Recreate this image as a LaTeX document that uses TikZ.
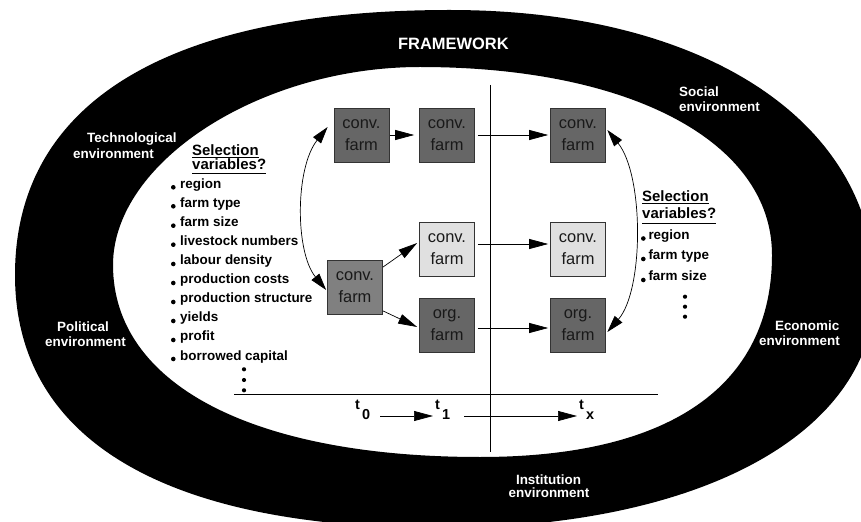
\documentclass[tikz,border=0pt]{standalone}
\usepackage{fontspec}
\setmainfont{Liberation Sans}
\usetikzlibrary{arrows.meta,calc}
\definecolor{darkbox}{HTML}{666666}
\definecolor{midbox}{HTML}{808080}
\definecolor{lightbox}{HTML}{E0E0E0}
\begin{document}
\begin{tikzpicture}[x=1bp,y=-1bp,
  farm/.style={draw=black!80, line width=0.7bp, minimum width=55bp, minimum height=54bp,
    inner sep=0pt, align=center, text=black!90, font=\fontsize{16.5}{22}\selectfont},
  arr/.style={line width=0.7bp, -{Triangle[length=19bp,width=10bp]}},
  dblarr/.style={line width=0.7bp, {Triangle[length=17bp,width=10bp]}-{Triangle[length=17bp,width=10bp]}},
  envlbl/.style={text=white, inner sep=0pt, font=\fontsize{13.5}{15.5}\selectfont\bfseries},
  headlbl/.style={inner sep=0pt, font=\fontsize{15}{17}\selectfont\bfseries},
  item/.style={inner sep=0pt, anchor=base west, font=\fontsize{13.5}{15}\selectfont\bfseries},
  tlab/.style={inner sep=0pt, anchor=base west, font=\fontsize{14.5}{16}\selectfont\bfseries},
  thinl/.style={line width=0.7bp}]
\useasboundingbox (0,0) rectangle (861,522);
% ring
\fill[white] (0,0) rectangle (861,522);
\fill[black, even odd rule]
  (15,275) .. controls (15,103) and (167,10) .. (450,10)
  .. controls (705,10) and (875,122) .. (875,290)
  .. controls (875,433) and (701,528) .. (440,528)
  .. controls (164,528) and (15,439) .. (15,275) -- cycle
  (113,265) .. controls (113,162) and (260,67) .. (420,67)
  .. controls (631,67) and (772,142) .. (772,255)
  .. controls (772,386) and (670,457) .. (480,457)
  .. controls (252,457) and (113,384) .. (113,265) -- cycle;
% environment labels
\node[envlbl, anchor=base west] (fw) at (398,50) {\fontsize{16.5}{18}\selectfont FRAMEWORK};
\node[envlbl, anchor=base west] (tech1) at (87,142.7) {Technological};
\node[envlbl, anchor=base west] (tech2) at (73,158.3) {environment};
\node[envlbl, anchor=base west] (soc1) at (679,96.7) {Social};
\node[envlbl, anchor=base west] (soc2) at (679,111.7) {environment};
\node[envlbl, anchor=base] (pol1) at (83,331.7) {Political};
\node[envlbl, anchor=base] (pol2) at (85.5,346.7) {environment};
\node[envlbl, anchor=base east] (eco1) at (839.5,330.7) {Economic};
\node[envlbl, anchor=base east] (eco2) at (840,345.7) {environment};
\node[envlbl, anchor=base] (ins1) at (548.5,484.3) {Institution};
\node[envlbl, anchor=base] (ins2) at (549,497.7) {environment};
% axes
\coordinate (vtop) at (490,85);
\coordinate (vbot) at (490,452);
\coordinate (hl) at (234,394);
\coordinate (hr) at (658,394);
\draw[thinl] (vtop) -- (vbot);
\draw[thinl] (hl) -- (hr);
% farm boxes
\node[farm, fill=darkbox] (A) at (361.5,135) {conv.\\farm};
\node[farm, fill=darkbox] (B) at (447,135) {conv.\\farm};
\node[farm, fill=darkbox] (C) at (578,135) {conv.\\farm};
\node[farm, fill=lightbox] (D) at (447,249) {conv.\\farm};
\node[farm, fill=lightbox] (E) at (578,249) {conv.\\farm};
\node[farm, fill=midbox] (F) at (355,287.5) {conv.\\farm};
\node[farm, fill=darkbox] (G) at (447,325) {org.\\farm};
\node[farm, fill=darkbox] (H) at (578,325) {org.\\farm};
% arrows between boxes
\draw[arr] ([xshift=1bp]A.east) -- ([xshift=-5bp]B.west);
\draw[arr] ([xshift=3bp]B.east) -- ([xshift=-2bp]C.west);
\draw[arr] ([xshift=3bp,yshift=5bp]D.east) -- ([xshift=-2bp,yshift=5bp]E.west);
\draw[arr] ([xshift=3bp,yshift=-3bp]G.east) -- ([xshift=-2bp,yshift=-3bp]H.west);
\draw[arr] ([yshift=-7bp]F.north east) -- ([xshift=-2bp,yshift=6bp]D.west);
\draw[arr] ([yshift=4bp]F.south east) -- ([xshift=-2bp,yshift=-2bp]G.west);
\draw[dblarr] ([xshift=-6bp,yshift=8bp]A.west) .. controls (295,168) and (295,252) .. ([xshift=-1bp,yshift=-2.5bp]F.west);
\draw[dblarr] ([xshift=1.5bp,yshift=5bp]C.east) .. controls (644,175) and (644,290) .. ([xshift=1.5bp,yshift=-7bp]H.east);
% left selection list
\node[headlbl, anchor=base west] (sl1) at (192,156) {Selection};
\node[headlbl, anchor=base west] (sl2) at (192,169.3) {variables?};
\draw[thinl] ([yshift=-1bp]sl1.base west) -- ([yshift=-1bp]sl1.base east);
\draw[thinl] ([yshift=-4bp]sl2.base west) -- ([yshift=-4bp]sl2.base east);
\foreach \t/\y [count=\i] in {region/188.3, farm type/207.3, farm size/226.7,
  livestock numbers/245.7, labour density/265, production costs/284,
  production structure/303, yields/322, profit/341, borrowed capital/360}{
  \node[item] (l\i) at (180,\y) {\t};
  \fill ($(l\i.base west)+(-6.7,-1)$) circle (2.3);
}
\fill (244,369.3) circle (2.1) (244,380) circle (2.1) (244,390.3) circle (2.1);
% right selection list
\node[headlbl, anchor=base west] (sr1) at (642,201.7) {Selection};
\node[headlbl, anchor=base west] (sr2) at (642,219) {variables?};
\draw[thinl] ([yshift=-1.5bp]sr1.base west) -- ([yshift=-1.5bp]sr1.base east);
\draw[thinl] ([yshift=-4bp]sr2.base west) -- ([yshift=-4bp]sr2.base east);
\foreach \t/\y [count=\i] in {region/239.5, farm type/260, farm size/281}{
  \node[item] (r\i) at (648.3,\y) {\t};
  \fill ($(r\i.base west)+(-5,-1)$) circle (2.3);
}
\fill (685,296.7) circle (2.1) (685,306.7) circle (2.1) (685,316.7) circle (2.1);
% time labels
\coordinate (ax) at (0,416);
\node[tlab] (t0) at (355,409) {t\kern2bp\raisebox{-10bp}{0}};
\node[tlab] (t1) at (435,409) {t\kern2bp\raisebox{-10bp}{1}};
\node[tlab] (tx) at (579,409) {t\kern2bp\raisebox{-10bp}{x}};
\draw[arr] ($(t0.east|-ax)+(10,0)$) -- ($(t1.west|-ax)+(-2,0)$);
\draw[arr] ($(t1.east|-ax)+(14,0)$) -- ($(tx.west|-ax)+(-2,0)$);
\end{tikzpicture}
\end{document}
